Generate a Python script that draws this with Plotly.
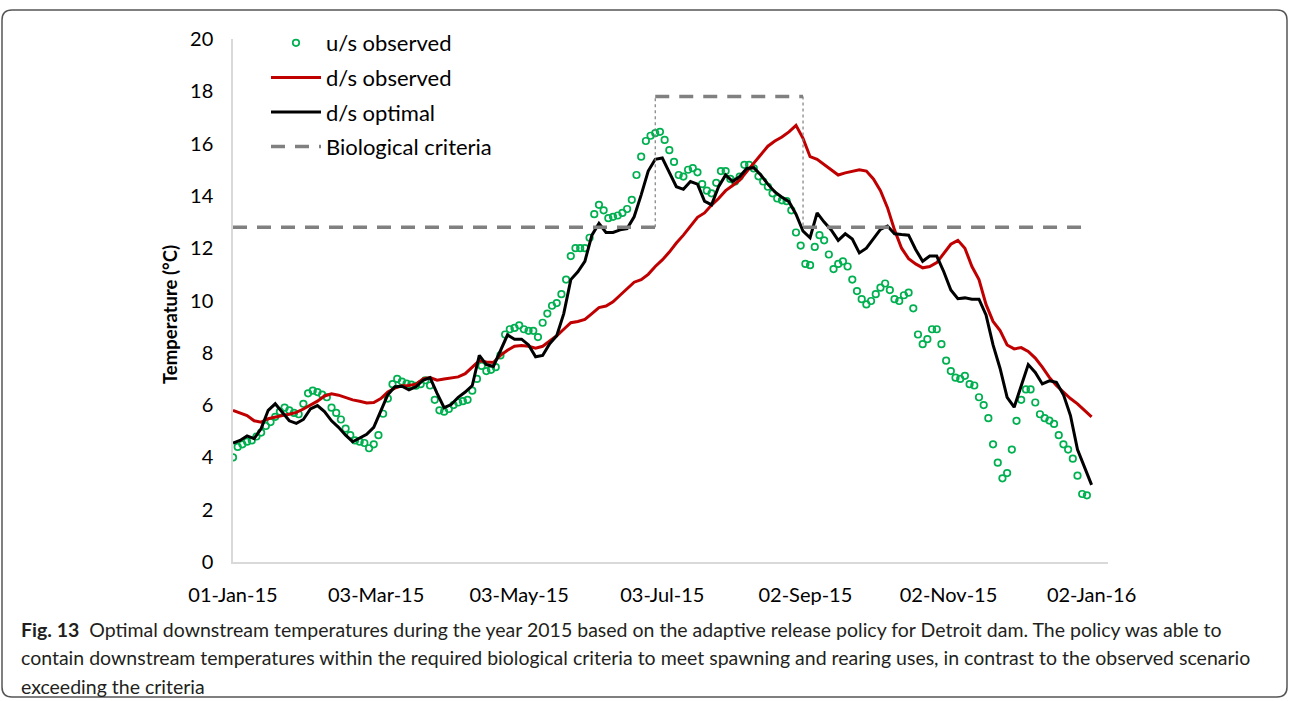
import pandas as pd
import plotly.graph_objects as go

# u/s observed, every 2 days from 01-Jan-15
green = [
    4.0, 4.4, 4.5, 4.6, 4.65, 4.8, 4.95, 5.2, 5.35, 5.55,
    5.75, 5.9, 5.8, 5.7, 5.65, 6.05, 6.45, 6.55, 6.5, 6.4,
    6.3, 5.9, 5.7, 5.45, 5.1, 4.85, 4.65, 4.6, 4.55, 4.35,
    4.5, 4.85, 5.67, 6.25, 6.8, 7.0, 6.9, 6.82, 6.78, 6.74,
    6.8, 6.95, 6.75, 6.2, 5.8, 5.75, 5.85, 6.0, 6.1, 6.15,
    6.2, 6.55, 7.0, 7.5, 7.3, 7.35, 7.45, 7.9, 8.7, 8.9,
    8.95, 9.05, 8.9, 8.84, 8.84, 8.6, 9.15, 9.5, 9.8, 9.9,
    10.24, 10.8, 11.7, 12.0, 12.0, 12.0, 12.4, 13.3, 13.66, 13.45,
    13.15, 13.2, 13.25, 13.35, 13.5, 13.85, 14.8, 15.5, 16.1, 16.3,
    16.4, 16.45, 16.14, 15.75, 15.3, 14.8, 14.74, 15.0, 15.06, 14.9,
    14.45, 14.2, 14.1, 14.5, 14.95, 14.95, 14.65, 14.55, 14.74, 15.19,
    15.19, 15.05, 14.75, 14.55, 14.35, 14.1, 13.9, 13.83, 13.8, 13.45,
    12.6, 12.1, 11.4, 11.35, 12.05, 12.5, 12.3, 11.76, 11.2, 11.4,
    11.5, 11.3, 10.8, 10.36, 10.05, 9.85, 9.98, 10.24, 10.49, 10.65,
    10.4, 10.05, 9.98, 10.2, 10.3, 9.7, 8.7, 8.33, 8.52, 8.9,
    8.9, 8.33, 7.7, 7.3, 7.05, 7.0, 7.12, 6.8, 6.75, 6.3,
    6.0, 5.5, 4.5, 3.8, 3.2, 3.4, 4.3, 5.4, 6.2, 6.6,
    6.6, 6.1, 5.65, 5.5, 5.41, 5.28, 4.85, 4.5, 4.3, 3.95,
    3.3, 2.6, 2.55,
]

# d/s observed, every 3 days from 01-Jan-15
red = [
    5.8, 5.7, 5.6, 5.4, 5.35, 5.48, 5.55, 5.6, 5.65, 5.72,
    5.85, 6.0, 6.15, 6.35, 6.43, 6.38, 6.3, 6.2, 6.15, 6.08,
    6.1, 6.25, 6.5, 6.65, 6.74, 6.75, 6.8, 7.0, 7.05, 6.95,
    7.0, 7.05, 7.08, 7.2, 7.44, 7.7, 7.65, 7.63, 7.9, 8.1,
    8.25, 8.28, 8.25, 8.18, 8.25, 8.45, 8.65, 8.9, 9.15, 9.2,
    9.28, 9.5, 9.73, 9.79, 9.95, 10.2, 10.45, 10.7, 10.8, 11.0,
    11.3, 11.55, 11.85, 12.2, 12.5, 12.85, 13.18, 13.35, 13.65, 13.9,
    14.2, 14.4, 14.6, 14.93, 15.25, 15.55, 15.9, 16.1, 16.25, 16.45,
    16.7, 16.2, 15.5, 15.4, 15.2, 15.0, 14.8, 14.88, 14.95, 15.0,
    14.95, 14.65, 14.2, 13.55, 12.7, 12.0, 11.6, 11.4, 11.25, 11.3,
    11.45, 11.8, 12.15, 12.3, 12.0, 11.3, 10.8, 9.85, 9.2, 8.85,
    8.3, 8.15, 8.2, 8.05, 7.8, 7.45, 7.06, 6.75, 6.5, 6.25,
    6.05, 5.8, 5.55,
]

# d/s optimal, every 3 days from 01-Jan-15
black = [
    4.55, 4.65, 4.82, 4.72, 5.1, 5.8, 6.05, 5.72, 5.4, 5.3,
    5.45, 5.85, 5.98, 5.75, 5.4, 5.15, 4.85, 4.6, 4.75, 4.88,
    5.15, 5.75, 6.4, 6.7, 6.72, 6.58, 6.7, 6.95, 7.05, 6.45,
    5.9, 6.02, 6.3, 6.5, 6.75, 7.9, 7.55, 7.48, 8.1, 8.68,
    8.52, 8.52, 8.3, 7.85, 7.9, 8.35, 8.65, 9.5, 10.8, 11.1,
    11.5, 12.5, 12.95, 12.6, 12.6, 12.7, 12.75, 13.2, 14.04, 14.95,
    15.4, 15.45, 14.9, 14.35, 14.25, 14.55, 14.45, 13.8, 13.66, 14.35,
    14.8, 14.55, 14.74, 15.05, 15.08, 14.8, 14.45, 14.15, 13.95, 13.78,
    13.3, 12.65, 12.4, 13.35, 13.0, 12.7, 12.3, 12.55, 12.35, 11.82,
    12.0, 12.35, 12.72, 12.85, 12.55, 12.52, 12.5, 11.95, 11.5, 11.7,
    11.7, 11.1, 10.4, 10.07, 10.1, 10.05, 10.05, 9.45, 8.3, 7.4,
    6.3, 5.92, 6.75, 7.55, 7.25, 6.81, 6.93, 6.87, 6.4, 5.6,
    4.3, 3.6, 2.95,
]

# biological criteria steps
crit_dates = ["2015-01-01", "2015-06-30", "2015-06-30", "2015-09-01", "2015-09-01", "2016-01-01"]
crit_vals = [12.8, 12.8, 17.8, 17.8, 12.8, 12.8]

tick_dates = ["2015-01-01", "2015-03-03", "2015-05-03", "2015-07-03",
              "2015-09-02", "2015-11-02", "2016-01-02"]
tick_text = ["01-Jan-15", "03-Mar-15", "03-May-15", "03-Jul-15",
             "02-Sep-15", "02-Nov-15", "02-Jan-16"]

caption = [
    "<b>Fig. 13</b>  Optimal downstream temperatures during the year 2015 based on the adaptive release policy for Detroit dam. The policy was able to",
    "contain downstream temperatures within the required biological criteria to meet spawning and rearing uses, in contrast to the observed scenario",
    "exceeding the criteria",
]

green_x = pd.date_range("2015-01-01", periods=len(green), freq="2D")
line_x = pd.date_range("2015-01-01", periods=len(red), freq="3D")

W, H = 1290, 701
L, R, T, B = 233, 1108, 39, 562


def px(x):
    return (x - L) / (R - L)


def py(y):
    return (B - y) / (B - T)


FONT = "Lato, 'Open Sans', sans-serif"

fig = go.Figure()
fig.add_trace(go.Scatter(
    x=green_x, y=green, name="u/s observed", mode="markers", legendgroup="a",
    marker=dict(symbol="circle-open", size=6.5, color="#00B050", line=dict(width=1.7)),
))
fig.add_trace(go.Scatter(
    x=line_x, y=red, name="d/s observed", mode="lines", legendgroup="b",
    line=dict(color="#C00000", width=3),
))
fig.add_trace(go.Scatter(
    x=line_x, y=black, name="d/s optimal", mode="lines", legendgroup="c",
    line=dict(color="#000000", width=3),
))
# horizontal parts dashed, vertical steps dotted
hx, hy, vx, vy = [], [], [], []
for i in range(0, len(crit_dates), 2):
    hx += [crit_dates[i], crit_dates[i + 1], None]
    hy += [crit_vals[i], crit_vals[i + 1], None]
for i in range(1, len(crit_dates) - 1, 2):
    vx += [crit_dates[i], crit_dates[i + 1], None]
    vy += [crit_vals[i], crit_vals[i + 1], None]
fig.add_trace(go.Scatter(
    x=vx, y=vy, mode="lines", showlegend=False, hoverinfo="skip",
    line=dict(color="#7F7F7F", width=1.2, dash="dot"),
))
fig.add_trace(go.Scatter(
    x=hx, y=hy, name="Biological criteria", mode="lines", legendgroup="d",
    line=dict(color="#808080", width=3.5, dash="14px,10px"),
))

# y axis title (placed by hand, Excel puts it a bit below centre)
fig.add_annotation(
    x=px(170), y=py(315), xref="paper", yref="paper", textangle=-90,
    xanchor="center", yanchor="middle",
    showarrow=False, text="<b>Temperature (°C)</b>", font=dict(size=18.5),
)

for i, line in enumerate(caption):
    fig.add_annotation(
        x=px(19), y=py(629 + 28.5 * i), xref="paper", yref="paper",
        xanchor="left", yanchor="middle", showarrow=False, align="left",
        text=line, font=dict(family=FONT, size=19.5, color="#231F20"),
    )

# rounded frame around figure + caption
x0, x1, y0, y1, r = px(2), px(1287), py(10), py(697), 10
rx, ry = r / (R - L), r / (B - T)
fig.add_shape(
    type="path", xref="paper", yref="paper",
    path=(f"M {x0},{y0 - ry} Q {x0},{y0} {x0 + rx},{y0} L {x1 - rx},{y0} "
          f"Q {x1},{y0} {x1},{y0 - ry} L {x1},{y1 + ry} Q {x1},{y1} {x1 - rx},{y1} "
          f"L {x0 + rx},{y1} Q {x0},{y1} {x0},{y1 + ry} Z"),
    line=dict(color="#555555", width=1.5),
)

fig.update_layout(
    width=W, height=H,
    margin=dict(l=L, r=W - R, t=T, b=H - B),
    paper_bgcolor="white", plot_bgcolor="white",
    font=dict(family=FONT, size=20, color="#000000"),
    showlegend=True,
    legend=dict(
        x=px(266), y=py(22), xanchor="left", yanchor="top",
        font=dict(size=22), itemwidth=50, tracegroupgap=3,
        bgcolor="rgba(0,0,0,0)",
    ),
    xaxis=dict(
        range=["2015-01-01", "2016-01-09"],
        tickvals=tick_dates, ticktext=tick_text,
        showgrid=False, zeroline=False, showline=True,
        linecolor="#D9D9D9", linewidth=1.5, ticks="", ticklabelstandoff=14,
    ),
    yaxis=dict(
        range=[0, 20], dtick=2, showgrid=False, zeroline=False,
        showline=True, linecolor="#D9D9D9", linewidth=1.5, ticks="",
        ticklabelstandoff=14,
    ),
)

# page body margin would push the figure off the 1290x701 window
fig.write_html(
    "out.html",
    config={"displayModeBar": False},
    post_script="document.body.style.margin='0';",
)
